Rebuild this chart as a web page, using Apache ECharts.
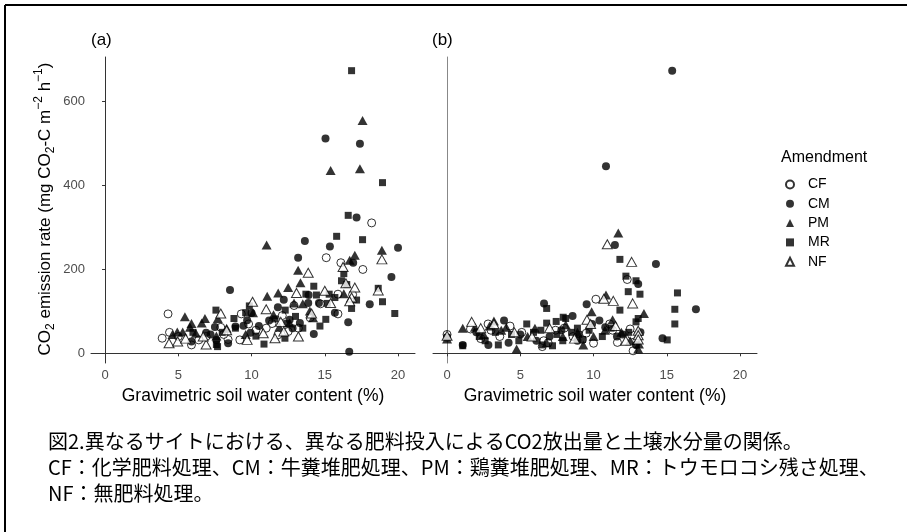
<!DOCTYPE html>
<html><head><meta charset="utf-8">
<script src="https://cdn.jsdelivr.net/npm/echarts@6/dist/echarts.min.js"></script>
<style>html,body{margin:0;padding:0;background:#fff}#c{width:907px;height:532px}</style>
</head><body><div id="c"></div>
<script>
const seriesNames = ['CF','CM','PM','MR','NF'];
const xTicks = [0,5,10,15,20];
const yTicks = [0,200,400,600];
const panelLabels = ['(a)','(b)'];
const xTitle = 'Gravimetric soil water content (%)';
const legendTitle = 'Amendment';
const captionLines = [
  '図2.異なるサイトにおける、異なる肥料投入によるCO2放出量と土壌水分量の関係。',
  'CF：化学肥料処理、CM：牛糞堆肥処理、PM：鶏糞堆肥処理、MR：トウモロコシ残さ処理、',
  'NF：無肥料処理。'
];

// Panel (a)
const a_CF = [[4.3,94],[4.4,50],[3.9,36],[5.9,20],[6.4,32],[8.4,33],[9.3,94],[9.2,32],[11.4,71],[11.8,44],[12.9,114],[14.0,85],[15.1,228],[16.1,216],[17.6,200],[18.2,311],[15.9,141],[15.9,94],[13.2,60],[12.5,52],[10.3,55],[7.9,62],[6.9,40],[5.0,40],[11.0,60],[14.7,118],[16.9,140],[12.1,90],[9.8,70],[8.1,45]];
const a_CM = [[15.05,512],[17.4,500],[17.17,324],[13.64,268],[15.35,255],[20.0,252],[13.18,228],[16.94,216],[19.55,182],[8.53,151],[18.07,117],[15.69,97],[13.87,120],[14.25,46],[16.67,4],[5.9,28],[6.9,49],[7.5,63],[7.6,32],[8.4,24],[8.9,64],[9.93,49],[10.5,65],[9.7,79],[9.45,66],[11.8,110],[12.6,80],[12.8,60],[13.3,72],[11.2,78],[14.6,120],[16.6,74],[12.2,128],[7.2,45],[10.0,96],[13.9,139]];
const a_PM = [[17.58,555],[15.4,436],[17.4,440],[11.03,258],[18.9,246],[17.05,234],[16.7,222],[13.18,198],[13.34,168],[12.5,157],[11.82,144],[11.07,136],[12.9,120],[13.98,101],[10.1,97],[5.45,87],[4.93,51],[5.3,51],[5.9,71],[5.8,62],[6.82,83],[6.6,72],[7.7,83],[7.6,41],[11.9,63],[12.6,72],[11.5,92],[9.6,45],[8.3,60],[14.2,85],[13.5,118],[16.3,142],[6.2,48],[4.6,45]];
const a_MR = [[16.83,674],[18.94,407],[16.6,329],[15.81,279],[17.58,271],[16.3,190],[16.14,173],[14.25,160],[18.65,155],[13.71,141],[15.3,141],[15.69,133],[14.43,139],[17.17,127],[15.17,119],[16.83,107],[18.94,123],[19.78,95],[15.07,81],[14.67,65],[9.85,113],[7.57,103],[7.6,21],[7.68,16],[8.8,83],[8.9,60],[10.3,41],[10.85,22],[12.28,36],[12.4,71],[12.3,103],[13.5,60],[9.6,97],[6.0,50],[11.6,82],[8.0,50],[13.0,88],[16.5,164]];
const a_NF = [[18.9,224],[16.25,206],[13.87,192],[16.44,167],[17.05,157],[18.65,150],[15.0,149],[13.07,144],[16.83,133],[16.7,124],[14.1,95],[10.07,123],[7.9,95],[4.37,24],[4.96,28],[6.9,21],[9.7,32],[10.8,48],[11.6,36],[12.2,52],[13.2,40],[12.0,75],[8.3,55],[6.7,40],[15.4,120],[11.0,105],[5.5,35]];

// Panel (b)
const b_CF = [[0.0,45],[1.6,58],[2.8,70],[3.6,40],[5.1,50],[6.5,16],[6.6,30],[7.4,55],[8.0,60],[9.25,33],[10.0,24],[10.16,129],[11.1,70],[11.63,26],[12.3,176],[12.6,44],[12.7,6],[11.3,55],[12.5,58],[9.5,48],[4.3,65],[2.3,35],[8.6,40],[6.9,25],[3.0,55]];
const b_CM = [[15.37,674],[10.85,446],[11.46,258],[14.26,213],[13.05,165],[9.53,117],[6.62,119],[16.99,105],[8.57,89],[14.71,36],[1.07,20],[2.82,20],[3.89,78],[0.0,38],[5.0,45],[7.0,40],[7.8,55],[9.9,70],[10.8,62],[11.6,40],[12.9,20],[4.2,25],[2.0,50],[6.1,30],[8.9,30],[10.4,78],[12.0,45],[13.2,50]];
const b_PM = [[11.69,287],[10.85,139],[9.87,99],[13.44,95],[13.05,10],[10.78,55],[10.0,40],[0.0,34],[1.07,60],[1.9,62],[3.2,77],[4.04,62],[4.75,10],[2.5,45],[3.7,55],[5.5,40],[6.8,25],[7.9,40],[8.9,50],[11.9,50],[12.5,30],[13.1,22],[9.3,20],[6.0,60],[8.1,68],[2.9,65],[11.3,80]];
const b_MR = [[11.8,224],[12.21,184],[12.9,173],[12.37,147],[13.17,141],[15.73,144],[6.8,107],[15.55,105],[11.8,103],[13.05,83],[8.1,83],[15.55,70],[15.03,32],[1.07,18],[3.5,20],[5.44,70],[6.8,72],[7.2,18],[7.93,86],[7.45,76],[8.9,60],[9.25,33],[0.0,38],[2.2,40],[2.6,30],[4.4,45],[5.9,50],[6.4,55],[7.5,45],[8.5,50],[9.7,55],[10.6,40],[11.2,60],[12.4,50],[4.9,30],[3.3,50],[6.5,20],[9.0,45],[12.9,75],[7.9,30]];
const b_NF = [[10.94,260],[12.6,218],[12.67,119],[10.7,130],[11.35,125],[9.55,80],[13.05,54],[13.05,43],[13.05,33],[1.68,75],[0.0,42],[3.2,70],[5.8,40],[7.0,60],[9.8,70],[11.5,65],[4.6,50],[2.3,60],[8.7,35],[12.2,30]];

const panels = [[a_CF,a_CM,a_PM,a_MR,a_NF],[b_CF,b_CM,b_PM,b_MR,b_NF]];

const FONT = 'Liberation Sans, Arial, sans-serif';
const styles = {
  CF: {symbol:'circle', symbolSize:8, itemStyle:{color:'#fff', borderColor:'#000', borderWidth:1}},
  CM: {symbol:'circle', symbolSize:8, itemStyle:{color:'#000', borderWidth:0}},
  PM: {symbol:'triangle', symbolSize:[10,9], itemStyle:{color:'#000', borderWidth:0}},
  MR: {symbol:'rect', symbolSize:7, itemStyle:{color:'#000', borderWidth:0}},
  NF: {symbol:'triangle', symbolSize:[10,9], itemStyle:{color:'#fff', borderColor:'#000', borderWidth:1}}
};

const gridLefts = [91, 433];
const grids = gridLefts.map(l => ({left:l, top:57, width:324, height:306}));
const xAxes = gridLefts.map((l,i) => ({
  type:'value', gridIndex:i, min:-0.96, max:21.16,
  name: xTitle, nameLocation:'middle', nameGap:23,
  nameTextStyle:{fontFamily:FONT, fontSize:17.5, color:'#000'},
  axisLine:{show:true, lineStyle:{color:'#333', width:1}},
  axisTick:{show:true, length:3, customValues:xTicks, lineStyle:{color:'#333'}},
  axisLabel:{customValues:xTicks, color:'#4d4d4d', fontSize:13, fontFamily:FONT, margin:6},
  splitLine:{show:false}
}));
const yAxes = gridLefts.map((l,i) => ({
  type:'value', gridIndex:i, min:-23.1, max:706.6,
  axisLine:{show:true, lineStyle:{color: i===0 ? '#333' : '#888', width:1}},
  axisTick:{show:i===0, length:3, customValues:yTicks, lineStyle:{color:'#333'}},
  axisLabel:{show:i===0, customValues:yTicks, color:'#4d4d4d', fontSize:13, fontFamily:FONT, margin:6},
  splitLine:{show:false}
}));

const series = [];
panels.forEach((sets, p) => {
  sets.forEach((data, k) => {
    const nm = seriesNames[k];
    series.push(Object.assign({
      type:'scatter', name:nm, xAxisIndex:p, yAxisIndex:p, data:data,
      emphasis:{disabled:true}, silent:true, animation:false
    }, JSON.parse(JSON.stringify(styles[nm]))));
  });
});

const graphics = [
  {type:'line', shape:{x1:5, y1:5, x2:907, y2:5}, style:{stroke:'#000', lineWidth:2}},
  {type:'line', shape:{x1:5, y1:5, x2:5, y2:532}, style:{stroke:'#000', lineWidth:2}},
  {type:'text', x:91, y:40, style:{text:panelLabels[0], fontFamily:FONT, fontSize:17, fill:'#000', verticalAlign:'middle'}},
  {type:'text', x:432, y:40, style:{text:panelLabels[1], fontFamily:FONT, fontSize:17, fill:'#000', verticalAlign:'middle'}},
  {type:'text', x:781, y:158, style:{text:legendTitle, fontFamily:FONT, fontSize:16, fill:'#000', verticalAlign:'middle'}},
  {type:'text', x:45, y:209, rotation:Math.PI/2, style:{
    text:'{n|CO}{s|2}{n| emission rate (mg CO}{s|2}{n|-C m}{u|−2}{n| h}{u|−1}{n|)}',
    align:'center', verticalAlign:'middle',
    rich:{
      n:{fontFamily:FONT, fontSize:17, fill:'#000', color:'#000', lineHeight:24},
      s:{fontFamily:FONT, fontSize:12, fill:'#000', color:'#000', lineHeight:12, verticalAlign:'bottom'},
      u:{fontFamily:FONT, fontSize:12, fill:'#000', color:'#000', lineHeight:12, verticalAlign:'top'}
    }}}
];
captionLines.forEach((t,i) => {
  graphics.push({type:'text', x:48, y:441 + i*26, style:{text:t, fontFamily:'Noto Sans CJK JP', fontSize:20, fill:'#000', verticalAlign:'middle'}});
});

const chart = echarts.init(document.getElementById('c'), null, {renderer:'canvas'});
chart.setOption({
  animation:false,
  backgroundColor:'#fff',
  grid: grids,
  xAxis: xAxes,
  yAxis: yAxes,
  legend: {
    orient:'vertical', left:780, top:172, itemWidth:8, itemHeight:8, itemGap:4.3,
    data: seriesNames,
    textStyle:{fontFamily:FONT, fontSize:14, color:'#000', lineHeight:15, padding:[0,0,0,9]},
    selectedMode:false
  },
  series: series,
  graphic: graphics
});
</script></body></html>
